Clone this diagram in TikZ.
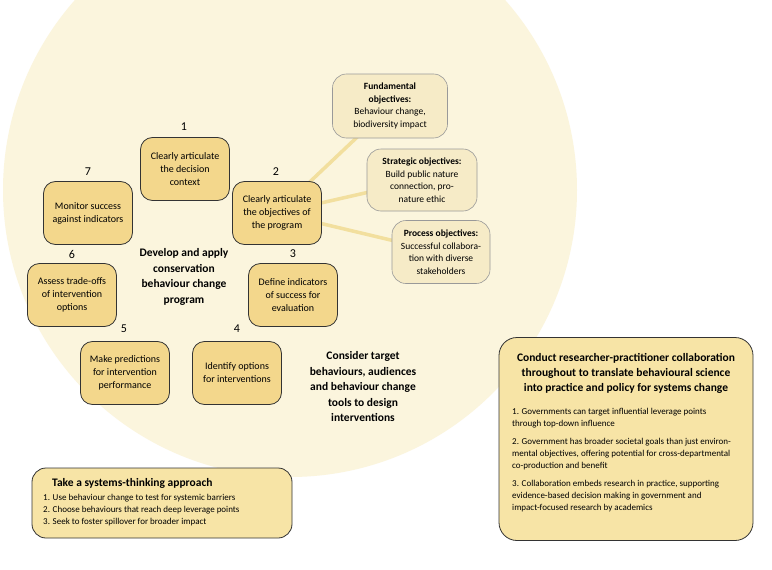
\documentclass[tikz,border=0pt]{standalone}
\usepackage{fontspec}
\setmainfont{Carlito}
\pgfdeclarelayer{back}
\pgfdeclarelayer{mid}
\pgfsetlayers{back,mid,main}
\begin{document}
\begin{tikzpicture}[x=1pt,y=-1pt,
 stepbox/.style={draw=black!80,fill=stepc,rounded corners=12pt,line width=0.8pt,minimum width=89pt,minimum height=63pt,align=center,font=\fontsize{10}{13}\selectfont,inner sep=2pt},
 obj/.style={draw=black!40,fill=objc,rounded corners=14pt,line width=0.6pt,align=center,font=\fontsize{9.5}{12.5}\selectfont,inner sep=2pt},
 num/.style={font=\fontsize{12}{14}\selectfont},
 big/.style={align=center,font=\bfseries\fontsize{11.5}{15.5}\selectfont},
 link/.style={draw=linkc,line width=3.5pt}]
\definecolor{bgc}{HTML}{FBF5DD}
\definecolor{stepc}{HTML}{F3D78C}
\definecolor{objc}{HTML}{F6EBC7}
\definecolor{linkc}{HTML}{F2DF9E}
\definecolor{boxc}{HTML}{F7E4A6}
\useasboundingbox (0,0) rectangle (772,570);
\begin{pgfonlayer}{back}
\fill[white] (0,0) rectangle (772,570);
\begin{scope}
\clip (0,0) rectangle (772,570);
\fill[bgc] (290,190) circle (287);
\end{scope}
\end{pgfonlayer}
\node[obj,minimum width=115pt,minimum height=64pt] (f) at (390,106) {\textbf{Fundamental}\\\textbf{objectives:}\\Behaviour change,\\biodiversity impact};
\node[obj,minimum width=110pt,minimum height=62pt] (s) at (422,180) {\textbf{Strategic objectives:}\\Build public nature\\connection, pro-\\nature ethic};
\node[obj,minimum width=98pt,minimum height=63pt] (p) at (441,252) {\textbf{Process objectives:}\\Successful collabora-\\tion with diverse\\stakeholders};
\node[stepbox] (n1) at (185,169) {Clearly articulate\\the decision\\context};
\node[stepbox] (n2) at (277,213) {Clearly articulate\\the objectives of\\the program};
\node[stepbox] (n3) at (293,295) {Define indicators\\of success for\\evaluation};
\node[stepbox] (n4) at (237,373) {Identify options\\for interventions};
\node[stepbox] (n5) at (125,373) {Make predictions\\for intervention\\performance};
\node[stepbox] (n6) at (72,295) {Assess trade-offs\\of intervention\\options};
\node[stepbox] (n7) at (88,213) {Monitor success\\against indicators};
\begin{pgfonlayer}{mid}
\draw[link] (n2.center) -- (f.center);
\draw[link] (n2.center) -- (s.center);
\draw[link] (n2.center) -- (p.center);
\end{pgfonlayer}
\node[num] (l1) at (184,127) {1};
\node[num] (l2) at (276,172) {2};
\node[num] (l3) at (293,254) {3};
\node[num] (l4) at (237,329) {4};
\node[num] (l5) at (124,329) {5};
\node[num] (l6) at (72,254) {6};
\node[num] (l7) at (88,172) {7};
\node[big] (c) at (184,277) {Develop and apply\\conservation\\behaviour change\\program};
\node[big] (r) at (363,387) {Consider target\\behaviours, audiences\\and behaviour change\\tools to design\\interventions};
\node[draw=black!80,fill=boxc,rounded corners=14pt,line width=0.8pt,minimum width=260pt,minimum height=70pt] (sys) at (162,503) {};
\node[anchor=north west,align=left,inner sep=0pt] (syst) at (52,478) {\bfseries\fontsize{11.5}{13}\selectfont Take a systems-thinking approach};
\node[anchor=north west,align=left,inner sep=0pt,font=\fontsize{9}{12}\selectfont] (sysl) at (43,494) {1. Use behaviour change to test for systemic barriers\\2. Choose behaviours that reach deep leverage points\\3. Seek to foster spillover for broader impact};
\node[draw=black!80,fill=boxc,rounded corners=18pt,line width=0.8pt,minimum width=254pt,minimum height=203pt] (col) at (626,439) {};
\node[align=center,font=\bfseries\fontsize{11.5}{15}\selectfont] (colt) at (626,373) {Conduct researcher-practitioner collaboration\\throughout to translate behavioural science\\into practice and policy for systems change};
\node[anchor=north west,align=left,inner sep=0pt,font=\fontsize{9}{12}\selectfont] (coll) at (512,408) {1. Governments can target influential leverage points\\through top-down influence\\[6pt]2. Government has broader societal goals than just environ-\\mental objectives, offering potential for cross-departmental\\co-production and benefit\\[6pt]3. Collaboration embeds research in practice, supporting\\evidence-based decision making in government and\\impact-focused research by academics};
\end{tikzpicture}
\end{document}
